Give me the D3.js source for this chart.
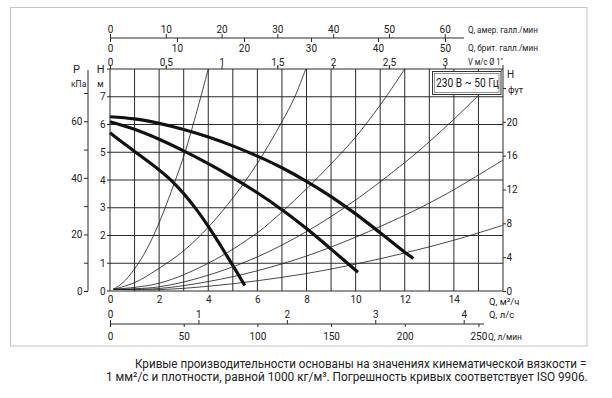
<!DOCTYPE html>
<html>
<head>
<meta charset="utf-8">
<script src="https://cdn.jsdelivr.net/npm/d3@7"></script>
<style>
  body { margin: 0; background: #fff; }
  svg { display: block; }
  text { font-family: "Liberation Sans Narrow", "Arial Narrow", Roboto, sans-serif; fill: #222; }
</style>
</head>
<body>
<svg id="chart" width="612" height="398"></svg>
<script>
// pump curves: [Q m3/h, H m]
const pumpHigh = [[0,6.28],[1,6.2],[2,6.04],[3,5.82],[4,5.55],[5,5.23],[6,4.86],[7,4.44],[8,3.95],[9,3.4],[10,2.78],[11,2.1],[12,1.4],[12.35,1.17]];
const pumpMid = [[0,6.1],[1,5.83],[2,5.47],[3,5.05],[4,4.59],[5,4.09],[6,3.54],[7,2.93],[8,2.25],[9,1.51],[10,0.75],[10.1,0.68]];
const pumpLow = [[0,5.7],[0.5,5.36],[1,5.03],[1.5,4.7],[2,4.36],[2.5,3.98],[3,3.51],[3.5,2.96],[4,2.33],[4.5,1.64],[5,0.92],[5.49,0.2]];

// thin system curves
const sysA = [[0.13,0.06],[0.5,0.28],[1,0.8],[1.5,1.51],[2,2.46],[2.5,3.6],[3,4.85],[3.5,6.36],[4,8]];
const sysB = [[0.13,0.06],[1,0.3],[2,0.82],[3,1.45],[4,2.3],[5,3.35],[6,4.6],[7,6.1],[7.5,6.95],[7.97,8]];
const sysC = [[0.13,0.06],[2,0.28],[4,1.0],[6,2.1],[7,2.85],[8,3.68],[9,4.58],[10,5.55],[11,6.7],[12,8]];
const sysD = [[0.13,0.06],[2,0.15],[4,0.57],[6,1.23],[8,2.14],[10,3.28],[12,4.63],[13,5.38],[14,6.19],[15,7.05],[16,8]];
const sysE = [[0.13,0.06],[2,0.09],[4,0.34],[6,0.73],[8,1.26],[10,1.94],[12,2.73],[13,3.17],[14,3.65],[16,4.72]];
const sysF = [[0.13,0.06],[2,0.05],[4,0.17],[6,0.37],[8,0.63],[10,0.97],[12,1.37],[14,1.83],[16,2.37]];

// tick values
const qTicks = [0,2,4,6,8,10,12,14];
const hTicks = [0,1,2,3,4,5,6,7];
const usTicks = [0,10,20,30,40,50,60];
const ukTicks = [0,10,20,30,40,50];
const vTicks = [0,0.5,1,1.5,2,2.5,3];
const lpsTicks = [0,1,2,3,4];
const lpmTicks = [0,50,100,150,200,250];
const kpaTicks = [0,10,20,30,40,50,60,70];
const ftTicks = [0,4,8,12,16,20,24];

const caption1 = "Кривые производительности основаны на значениях кинематической вязкости =";
const caption2 = "1 мм²/с и плотности, равной 1000 кг/м³. Погрешность кривых соответствует ISO 9906.";

const svg = d3.select("#chart");

const plotLeft = 110, plotRight = 503, plotTop = 69, plotBottom = 291;
const x = d3.scaleLinear().domain([0, 16]).range([plotLeft, plotRight]);
const y = d3.scaleLinear().domain([0, 8]).range([plotBottom, plotTop]);

// other units expressed on the same pixel range
const xUS = d3.scaleLinear().domain([0, 16 / 0.22712]).range([plotLeft, plotRight]);
const xUK = d3.scaleLinear().domain([0, 16 / 0.27277]).range([plotLeft, plotRight]);
const xV = d3.scaleLinear().domain([0, 16 / 4.5425]).range([plotLeft, plotRight]);
const xLps = d3.scaleLinear().domain([0, 16 / 3.6]).range([plotLeft, plotRight]);
const xLpm = d3.scaleLinear().domain([0, 16 / 0.06]).range([plotLeft, plotRight]);
const yKpa = d3.scaleLinear().domain([0, 8 * 9.81]).range([plotBottom, plotTop]);
const yFt = d3.scaleLinear().domain([0, 8 / 0.3048]).range([plotBottom, plotTop]);

const comma = d => String(d).replace(".", ",");

// squeeze a text horizontally to a given width (condensed look)
function fitText(parent, str, x0, y0, size, width) {
  const t = parent.append("text").attr("font-size", size).text(str);
  const k = width ? Math.min(1, width / t.node().getComputedTextLength()) : 1;
  t.attr("transform", `translate(${x0},${y0}) scale(${k},1)`);
  return t;
}

// outer frame
svg.append("rect")
  .attr("x", 10.5).attr("y", 7.5)
  .attr("width", 576.5).attr("height", 338.5)
  .attr("fill", "none").attr("stroke", "#c4c4c4");

// grid
const grid = svg.append("g").attr("stroke", "#2a2a2a").attr("stroke-width", 1);
grid.selectAll("line.v")
  .data(d3.range(0, 17))
  .join("line")
  .attr("class", "v")
  .attr("x1", d => x(d)).attr("x2", d => x(d))
  .attr("y1", y(0)).attr("y2", d => (d === 16 ? y(8) - 4 : y(8)));
grid.selectAll("line.h")
  .data(d3.range(0, 9))
  .join("line")
  .attr("class", "h")
  .attr("x1", x(0) - 3).attr("x2", x(16))
  .attr("y1", d => y(d)).attr("y2", d => y(d));

function styleAxis(g, size) {
  g.attr("font-size", size).attr("font-family", null);
  g.select(".domain").remove();
  g.selectAll(".tick line").attr("stroke", "#2a2a2a");
  g.selectAll(".tick text").filter(function() { return this.textContent === ""; }).remove();
}

// top: US gallons (ticks up) and UK gallons (ticks down) on one line
svg.append("line")
  .attr("x1", xUS(0)).attr("x2", 464)
  .attr("y1", 38).attr("y2", 38)
  .attr("stroke", "#2a2a2a");
svg.append("g").attr("transform", "translate(0,38)")
  .call(d3.axisTop(xUS).tickValues(usTicks).tickSize(4).tickPadding(1))
  .call(g => styleAxis(g, 10));
svg.append("g").attr("transform", "translate(0,38)")
  .call(d3.axisBottom(xUK).tickValues(ukTicks).tickSize(4).tickPadding(2.5))
  .call(g => styleAxis(g, 10));

// velocity ticks above the plot
svg.append("g").attr("transform", `translate(0,${plotTop})`)
  .call(d3.axisTop(xV).tickValues(vTicks).tickSize(3).tickPadding(0.5).tickFormat(comma))
  .call(g => styleAxis(g, 10));

// bottom: m3/h labels
svg.append("g").attr("transform", `translate(0,${plotBottom})`)
  .call(d3.axisBottom(x).tickValues(qTicks).tickSize(0).tickPadding(5))
  .call(g => styleAxis(g, 10));

// l/s above, l/min below a shared line
svg.append("line")
  .attr("x1", xLps(0)).attr("x2", 484)
  .attr("y1", 324).attr("y2", 324)
  .attr("stroke", "#2a2a2a");
svg.append("g").attr("transform", "translate(0,324)")
  .call(d3.axisTop(xLps).tickValues(lpsTicks).tickSize(4).tickPadding(2.5).tickFormat(d => d))
  .call(g => styleAxis(g, 10));
svg.append("g").attr("transform", "translate(0,324)")
  .call(d3.axisBottom(xLpm).tickValues(lpmTicks).tickSize(3).tickPadding(6))
  .call(g => styleAxis(g, 10));

// left: H in metres
svg.append("g").attr("transform", `translate(${plotLeft - 3},0)`)
  .call(d3.axisLeft(y).tickValues(hTicks).tickSize(0).tickPadding(1.5))
  .call(g => styleAxis(g, 10));

// left: P in kPa
svg.append("line")
  .attr("x1", 88).attr("x2", 88)
  .attr("y1", yKpa(0)).attr("y2", plotTop + 1)
  .attr("stroke", "#2a2a2a");
svg.append("g").attr("transform", "translate(88,0)")
  .call(d3.axisLeft(yKpa).tickValues(kpaTicks).tickSize(4).tickPadding(1.5)
    .tickFormat(d => (d % 20 === 0 ? d : "")))
  .call(g => styleAxis(g, 10));

// right: H in feet
svg.append("g").attr("transform", `translate(${plotRight},0)`)
  .call(d3.axisRight(yFt).tickValues(ftTicks).tickSize(3).tickPadding(0.5)
    .tickFormat(d => (d === 24 ? "" : d)))
  .call(g => styleAxis(g, 10));

// system curves
const line = d3.line().x(d => x(d[0])).y(d => y(d[1])).curve(d3.curveCatmullRom.alpha(0.5));
svg.append("g")
  .selectAll("path")
  .data([sysA, sysB, sysC, sysD, sysE, sysF])
  .join("path")
  .attr("d", line)
  .attr("fill", "none")
  .attr("stroke", "#1a1a1a")
  .attr("stroke-width", 0.8);

// pump curves
svg.append("g")
  .selectAll("path")
  .data([pumpHigh, pumpMid, pumpLow])
  .join("path")
  .attr("d", line)
  .attr("fill", "none")
  .attr("stroke", "#111")
  .attr("stroke-width", 3.2);

// voltage box
svg.append("rect")
  .attr("x", 432.5).attr("y", 71.5).attr("width", 68.5).attr("height", 23)
  .attr("fill", "#fff").attr("stroke", "#333");
svg.append("rect")
  .attr("x", 434.5).attr("y", 73.5).attr("width", 64.5).attr("height", 19)
  .attr("fill", "none").attr("stroke", "#777").attr("stroke-width", 0.8);
fitText(svg, "230 В ~ 50 Гц", 436, 87.3, 13.5, 63);

// axis titles
const titles = [
  { t: "Q, амер. галл./мин", x: 468, y: 33, s: 9.5, w: 70 },
  { t: "Q, брит. галл./мин", x: 468, y: 51, s: 9.5, w: 70 },
  { t: "V м/с Ø 1\"", x: 468, y: 65, s: 9.5, w: 35 },
  { t: "Q, м³/ч", x: 489, y: 305, s: 9.5, w: 36 },
  { t: "Q, л/с", x: 489, y: 318, s: 9.5, w: 27 },
  { t: "Q, л/мин", x: 488, y: 340, s: 9.5, w: 34 },
  { t: "P", x: 73, y: 72.7, s: 11 },
  { t: "кПа", x: 71, y: 86.7, s: 8.5 },
  { t: "H", x: 96.7, y: 72.7, s: 11 },
  { t: "м", x: 97.3, y: 86.7, s: 8.5 },
  { t: "H", x: 507, y: 78, s: 10 },
  { t: "фут", x: 508, y: 92.5, s: 9 }
];
const titleG = svg.append("g");
titles.forEach(d => fitText(titleG, d.t, d.x, d.y, d.s, d.w));

// caption
fitText(svg, caption1, 135, 367.5, 12.5, 452);
fitText(svg, caption2, 106, 381, 12.5, 482);
</script>
</body>
</html>
